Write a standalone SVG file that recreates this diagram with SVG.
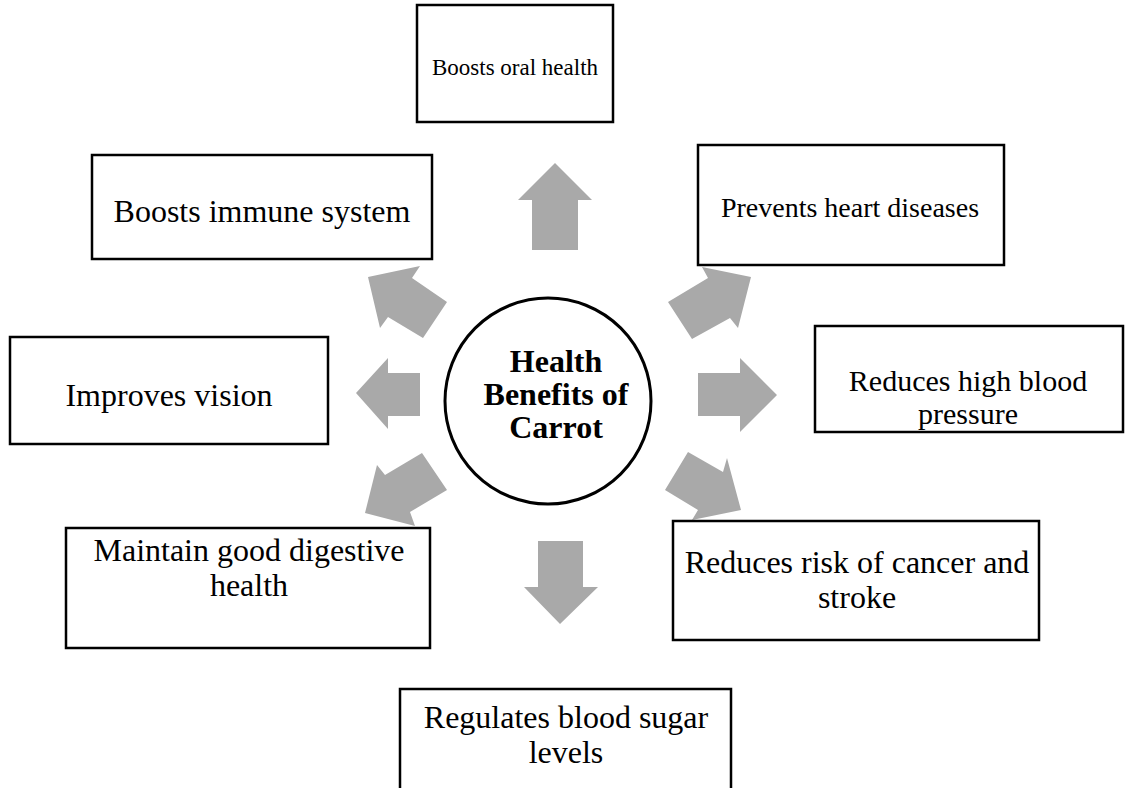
<svg xmlns="http://www.w3.org/2000/svg" width="1133" height="788" viewBox="0 0 1133 788">
<style>
.box{fill:#fff;stroke:#000;stroke-width:2.5}
.t{font-family:"Liberation Serif","Times New Roman",serif;font-size:32px;fill:#000;text-anchor:middle}
.b{font-family:"Liberation Serif","Times New Roman",serif;font-size:32px;font-weight:bold;fill:#000;text-anchor:middle}
.arr{fill:#a9a9a9;stroke:none}
</style>
<rect width="1133" height="788" fill="#fff"/>
<g id="connectors">
<polygon class="arr" points="555,163 592,200 578,200 578,250 532,250 532,200 518,200"/>
<polygon class="arr" points="560,624 598,587 583,587 583,541 538,541 538,587 524,587"/>
<polygon class="arr" points="356,393 388,358 388,373 420,373 420,416 388,416 388,429"/>
<polygon class="arr" points="777,395 740,358 740,373 698,373 698,416 740,416 740,432"/>
<polygon class="arr" points="368,277 420,266 412,278 447,302 423,338 388,317 380,328"/>
<polygon class="arr" points="751,277 738,328 730,318 692,339 668,302 708,278 702,267"/>
<polygon class="arr" points="365,513 377,465 385,475 422,453 447,490 410,512 415,526"/>
<polygon class="arr" points="741,510 727,458 723,472 688,452 665,490 698,510 692,520"/>
</g>
<g id="center">
<circle cx="548" cy="401" r="103" fill="#fff" stroke="#000" stroke-width="3"/>
<text class="b" x="556" y="372">Health</text>
<text class="b" x="556" y="405">Benefits of</text>
<text class="b" x="556" y="438">Carrot</text>
</g>
<g id="n1"><rect class="box" x="417" y="5" width="196" height="117"/><text class="t" x="515" y="75" style="font-size:23px">Boosts oral health</text></g>
<g id="n2"><rect class="box" x="92" y="155" width="340" height="104"/><text class="t" x="262" y="222">Boosts immune system</text></g>
<g id="n3"><rect class="box" x="698" y="145" width="306" height="120"/><text class="t" x="850" y="217" style="font-size:28px">Prevents heart diseases</text></g>
<g id="n4"><rect class="box" x="10" y="337" width="318" height="107"/><text class="t" x="169" y="406">Improves vision</text></g>
<g id="n5"><rect class="box" x="815" y="326" width="308" height="106"/><text class="t" x="968" y="391" style="font-size:30px">Reduces high blood</text><text class="t" x="968" y="424" style="font-size:30px">pressure</text></g>
<g id="n6"><rect class="box" x="66" y="528" width="364" height="120"/><text class="t" x="249" y="561">Maintain good digestive</text><text class="t" x="249" y="596">health</text></g>
<g id="n7"><rect class="box" x="673" y="521" width="366" height="119"/><text class="t" x="857" y="573">Reduces risk of cancer and</text><text class="t" x="857" y="608">stroke</text></g>
<g id="n8"><rect class="box" x="400" y="689" width="331" height="110"/><text class="t" x="566" y="728">Regulates blood sugar</text><text class="t" x="566" y="763">levels</text></g>
</svg>
